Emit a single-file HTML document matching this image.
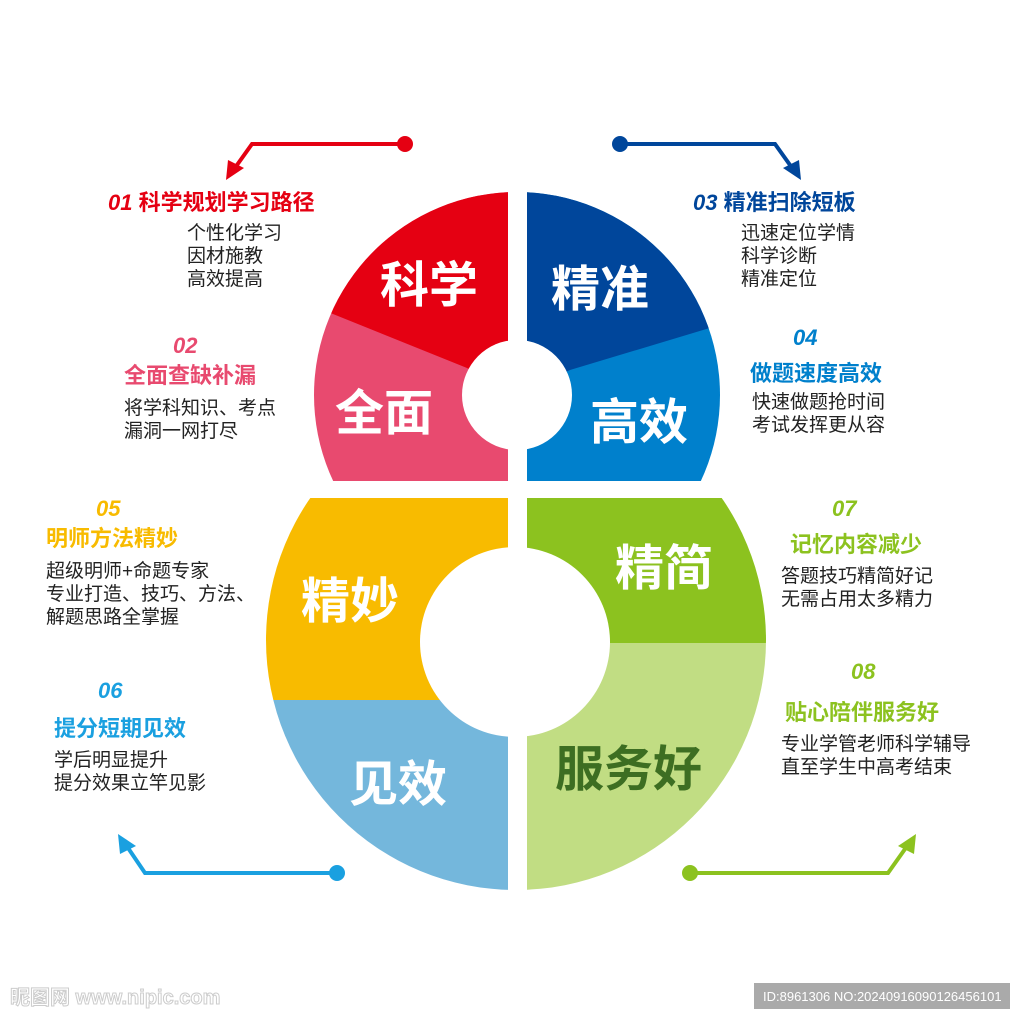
<!DOCTYPE html>
<html><head><meta charset="utf-8"><style>
html,body{margin:0;padding:0;background:#fff;}
svg{display:block;}
text{font-family:"Liberation Sans","Noto Sans CJK SC",sans-serif;}
</style></head><body>
<svg width="1024" height="1024" viewBox="0 0 1024 1024">
<defs>
<clipPath id="tl"><rect x="0" y="0" width="508" height="481"/></clipPath>
<clipPath id="tr"><rect x="527" y="0" width="500" height="481"/></clipPath>
<clipPath id="bl"><rect x="0" y="498" width="508" height="500"/></clipPath>
<clipPath id="br"><rect x="527" y="498" width="500" height="500"/></clipPath>
<clipPath id="tc"><circle cx="517" cy="395" r="203"/></clipPath>
<clipPath id="bc"><circle cx="516" cy="640" r="250"/></clipPath>
</defs>
<g clip-path="url(#tc)">
 <g clip-path="url(#tl)">
  <rect x="0" y="0" width="600" height="600" fill="#e84a6f"/>
  <polygon points="0,0 600,0 517,395 467,368 328,312 200,260 0,180" fill="#e50012"/>
 </g>
 <g clip-path="url(#tr)">
  <rect x="400" y="0" width="600" height="600" fill="#0080cc"/>
  <polygon points="400,0 1000,0 1000,250 713,327 570,370 517,395" fill="#00469b"/>
 </g>
</g>
<circle cx="517" cy="395" r="55" fill="#fff"/>
<g clip-path="url(#bc)">
 <g clip-path="url(#bl)">
  <rect x="0" y="498" width="600" height="202" fill="#f8bb00"/>
  <rect x="0" y="700" width="600" height="300" fill="#74b7dc"/>
 </g>
 <g clip-path="url(#br)">
  <rect x="400" y="498" width="600" height="145" fill="#8cc21f"/>
  <rect x="400" y="643" width="600" height="400" fill="#c1dd83"/>
 </g>
</g>
<circle cx="515" cy="642" r="95" fill="#fff"/>

<g font-weight="bold" fill="#fff" font-size="49">
<text x="380" y="302">科学</text>
<text x="551" y="306">精准</text>
<text x="335" y="430">全面</text>
<text x="590" y="439">高效</text>
<text x="301" y="618">精妙</text>
<text x="615" y="585">精简</text>
<text x="349" y="801">见效</text>
<text x="555" y="786" fill="#3d6e22">服务好</text>
</g>

<g fill="none" stroke-width="4">
<polyline points="405,144 252,144 232,172" stroke="#e50012"/>
<polyline points="620,144 775,144 795,172" stroke="#00469b"/>
<polyline points="337,873 145,873 124,842" stroke="#1aa0e0"/>
<polyline points="690,873 888,873 910,842" stroke="#8cc21f"/>
</g>
<circle cx="405" cy="144" r="8" fill="#e50012"/>
<polygon points="226,180 228,160 244,168" fill="#e50012"/>
<circle cx="620" cy="144" r="8" fill="#00469b"/>
<polygon points="801,180 783,168 799,160" fill="#00469b"/>
<circle cx="337" cy="873" r="8" fill="#1aa0e0"/>
<polygon points="118,834 136,846 120,854" fill="#1aa0e0"/>
<circle cx="690" cy="873" r="8" fill="#8cc21f"/>
<polygon points="916,834 914,854 898,846" fill="#8cc21f"/>

<g font-size="19" fill="#222">
<text x="108" y="210" font-size="22" font-weight="bold" fill="#e50012"><tspan font-style="italic">01</tspan> 科学规划学习路径</text>
<text x="187" y="239">个性化学习</text>
<text x="187" y="262">因材施教</text>
<text x="187" y="285">高效提高</text>

<text x="173" y="353" font-size="22" font-weight="bold" font-style="italic" fill="#e84a6f">02</text>
<text x="124" y="383" font-size="22" font-weight="bold" fill="#e84a6f">全面查缺补漏</text>
<text x="124" y="414">将学科知识、考点</text>
<text x="124" y="437">漏洞一网打尽</text>

<text x="693" y="210" font-size="22" font-weight="bold" fill="#00469b"><tspan font-style="italic">03</tspan> 精准扫除短板</text>
<text x="741" y="239">迅速定位学情</text>
<text x="741" y="262">科学诊断</text>
<text x="741" y="285">精准定位</text>

<text x="793" y="345" font-size="22" font-weight="bold" font-style="italic" fill="#0080cc">04</text>
<text x="750" y="381" font-size="22" font-weight="bold" fill="#0080cc">做题速度高效</text>
<text x="752" y="408">快速做题抢时间</text>
<text x="752" y="431">考试发挥更从容</text>

<text x="96" y="516" font-size="22" font-weight="bold" font-style="italic" fill="#f8bb00">05</text>
<text x="46" y="546" font-size="22" font-weight="bold" fill="#f8bb00">明师方法精妙</text>
<text x="46" y="577">超级明师+命题专家</text>
<text x="46" y="600">专业打造、技巧、方法、</text>
<text x="46" y="623">解题思路全掌握</text>

<text x="98" y="698" font-size="22" font-weight="bold" font-style="italic" fill="#1aa0e0">06</text>
<text x="54" y="736" font-size="22" font-weight="bold" fill="#1aa0e0">提分短期见效</text>
<text x="54" y="766">学后明显提升</text>
<text x="54" y="789">提分效果立竿见影</text>

<text x="832" y="516" font-size="22" font-weight="bold" font-style="italic" fill="#8cc21f">07</text>
<text x="790" y="552" font-size="22" font-weight="bold" fill="#8cc21f">记忆内容减少</text>
<text x="781" y="582">答题技巧精简好记</text>
<text x="781" y="605">无需占用太多精力</text>

<text x="851" y="679" font-size="22" font-weight="bold" font-style="italic" fill="#8cc21f">08</text>
<text x="785" y="720" font-size="22" font-weight="bold" fill="#8cc21f">贴心陪伴服务好</text>
<text x="781" y="750">专业学管老师科学辅导</text>
<text x="781" y="773">直至学生中高考结束</text>
</g>

<text x="10" y="1004" font-size="20" font-weight="bold" fill="#fff" stroke="#ccc" stroke-width="1">昵图网 www.nipic.com</text>
<rect x="754" y="983" width="256" height="26" fill="#aaa"/>
<text x="763" y="1001" font-size="13" fill="#fff">ID:8961306 NO:20240916090126456101</text>
</svg>
</body></html>
